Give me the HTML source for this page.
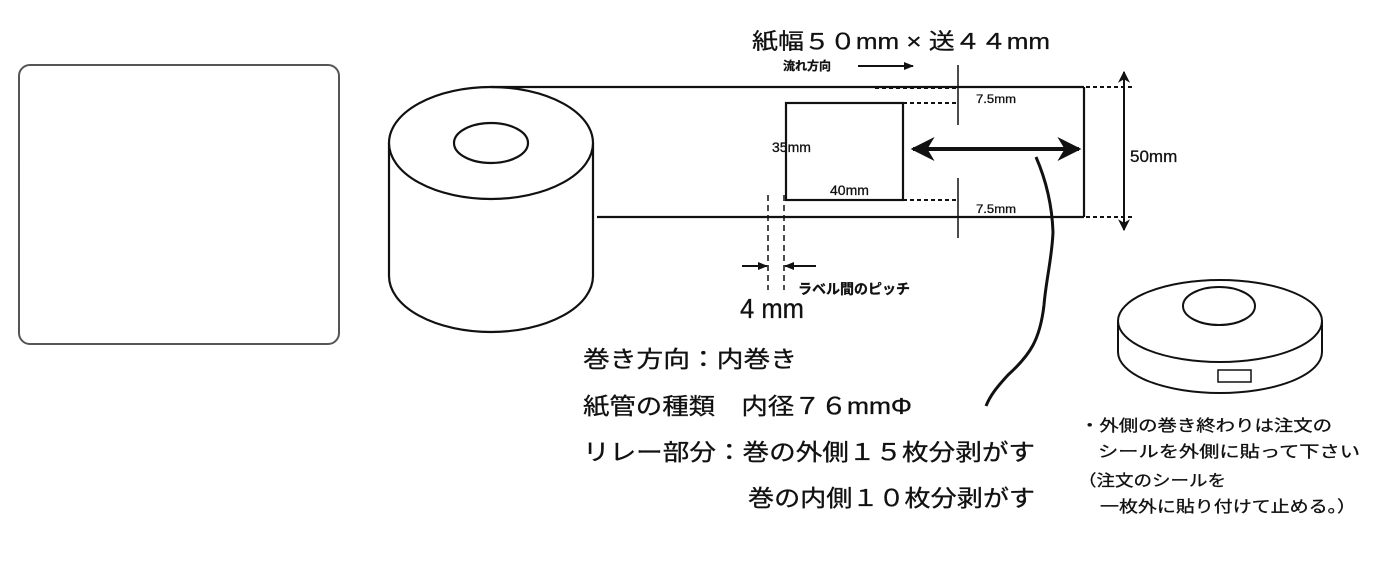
<!DOCTYPE html>
<html><head><meta charset="utf-8"><style>
html,body{margin:0;padding:0;background:#fff;}
svg{display:block;}
text{font-family:"Liberation Sans","Noto Sans CJK JP",sans-serif;fill:#111;stroke:#111;stroke-width:0.3;}
</style></head><body>
<svg width="1389" height="568" viewBox="0 0 1389 568" xmlns="http://www.w3.org/2000/svg">
<defs>
<marker id="ah" viewBox="0 0 10 10" refX="9" refY="5" markerWidth="6" markerHeight="6" orient="auto-start-reverse"><path d="M0,0 L10,5 L0,10 L3,5 z" fill="#111"/></marker>
<marker id="ahs" viewBox="0 0 10 10" refX="9" refY="5" markerWidth="5" markerHeight="5" orient="auto-start-reverse"><path d="M0,1 L10,5 L0,9 z" fill="#111"/></marker>
</defs>
<rect x="19" y="65" width="320" height="279" rx="11" fill="none" stroke="#555" stroke-width="2"/>

<g fill="none" stroke="#111" stroke-width="2.2">
<path d="M389,143 L389,276 A102,56 0 0 0 593,276 L593,143"/>
<ellipse cx="491" cy="143" rx="102" ry="56" fill="#fff"/>
<ellipse cx="491" cy="143" rx="37" ry="20"/>
<line x1="491" y1="87" x2="1084" y2="87"/>
<line x1="597" y1="217" x2="1084" y2="217"/>
<line x1="1084" y1="87" x2="1084" y2="217"/>
<rect x="786" y="103" width="117" height="97"/>
</g>
<g stroke="#111" stroke-width="2" stroke-dasharray="4,3" fill="none">
<line x1="903" y1="103" x2="958" y2="103"/>
<line x1="903" y1="200" x2="958" y2="200"/>
<line x1="875" y1="88" x2="958" y2="88"/>
<line x1="1086" y1="87" x2="1135" y2="87"/>
<line x1="1086" y1="217" x2="1135" y2="217"/>
</g>
<g stroke="#111" stroke-width="1.5" fill="none">
<line x1="958" y1="65" x2="958" y2="125"/>
<line x1="958" y1="178" x2="958" y2="238"/>
</g>
<g stroke="#111" stroke-width="1.5" stroke-dasharray="6,4" fill="none">
<line x1="768" y1="195" x2="768" y2="290"/>
<line x1="784" y1="195" x2="784" y2="290"/>
</g>
<line x1="742" y1="266" x2="767" y2="266" stroke="#111" stroke-width="2" marker-end="url(#ahs)"/>
<line x1="816" y1="266" x2="785" y2="266" stroke="#111" stroke-width="2" marker-end="url(#ahs)"/>
<line x1="913" y1="149" x2="1079" y2="149" stroke="#111" stroke-width="4" marker-start="url(#ah)" marker-end="url(#ah)"/>
<line x1="1124" y1="72" x2="1124" y2="230" stroke="#111" stroke-width="2" marker-start="url(#ah)" marker-end="url(#ah)"/>
<line x1="858" y1="66" x2="913" y2="66" stroke="#111" stroke-width="2" marker-end="url(#ahs)"/>
<path d="M1036,157 C1046,180 1052,205 1053,232 C1052,258 1046,280 1044,305 C1040,340 1030,355 1008,375 C996,388 990,396 986,406" fill="none" stroke="#111" stroke-width="3"/>

<g fill="none" stroke="#111" stroke-width="2">
<path d="M1118,321 L1118,352 A102,41 0 0 0 1322,352 L1322,321"/>
<ellipse cx="1220" cy="321" rx="102" ry="41" fill="#fff"/>
<ellipse cx="1219" cy="306" rx="36" ry="19"/>
<rect x="1218" y="370" width="33" height="12" stroke-width="1.5"/>
</g>

<text x="752" y="49" font-size="22" textLength="298" lengthAdjust="spacingAndGlyphs">紙幅５０mm × 送４４mm</text>
<text x="783" y="70" font-size="12" font-weight="bold">流れ方向</text>
<text x="976" y="103" font-size="12" textLength="40" lengthAdjust="spacingAndGlyphs">7.5mm</text>
<text x="976" y="213" font-size="12" textLength="40" lengthAdjust="spacingAndGlyphs">7.5mm</text>
<text x="772" y="152" font-size="14">35mm</text>
<text x="830" y="195" font-size="14">40mm</text>
<text x="1130" y="162" font-size="17">50mm</text>
<text x="798" y="294" font-size="14" font-weight="bold">ラベル間のピッチ</text>
<text x="740" y="318" font-size="28" textLength="64" lengthAdjust="spacingAndGlyphs">4 mm</text>

<text x="583" y="367" font-size="23" textLength="214" lengthAdjust="spacingAndGlyphs">巻き方向：内巻き</text>
<text x="583" y="414" font-size="23" textLength="329" lengthAdjust="spacingAndGlyphs">紙管の種類　内径７６mmΦ</text>
<text x="583" y="460" font-size="23" textLength="452" lengthAdjust="spacingAndGlyphs">リレー部分：巻の外側１５枚分剥がす</text>
<text x="748" y="506" font-size="23" textLength="287" lengthAdjust="spacingAndGlyphs">巻の内側１０枚分剥がす</text>

<text x="1080" y="431" font-size="16" textLength="252" lengthAdjust="spacingAndGlyphs">・外側の巻き終わりは注文の</text>
<text x="1098" y="457" font-size="16" textLength="262" lengthAdjust="spacingAndGlyphs">シールを外側に貼って下さい</text>
<text x="1078" y="486" font-size="16" textLength="148" lengthAdjust="spacingAndGlyphs">（注文のシールを</text>
<text x="1100" y="512" font-size="16" textLength="256" lengthAdjust="spacingAndGlyphs">一枚外に貼り付けて止める。）</text>
</svg>
</body></html>
